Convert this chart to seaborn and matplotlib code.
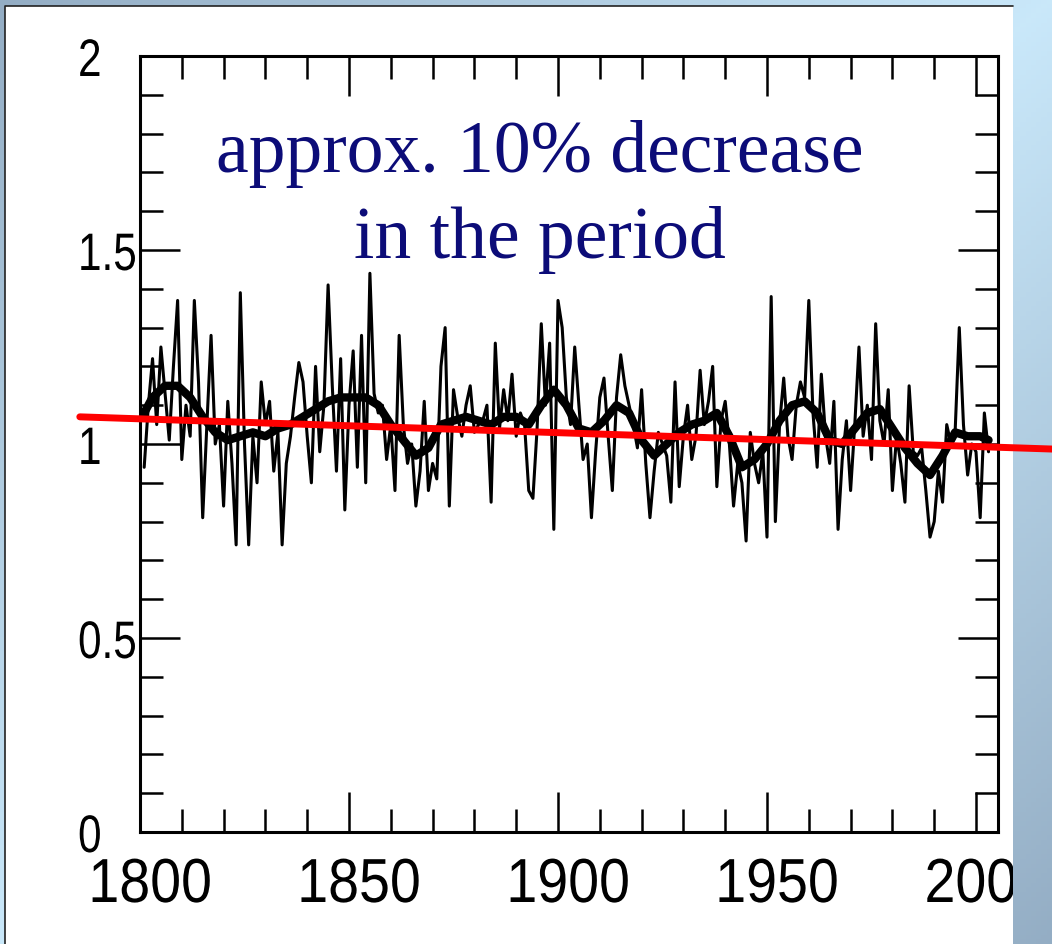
import numpy as np
import pandas as pd
import matplotlib
matplotlib.use("Agg")
import matplotlib.pyplot as plt
import seaborn as sns
from matplotlib.patches import Rectangle
from matplotlib.transforms import ScaledTranslation, Bbox, TransformedBbox, Affine2D
from matplotlib import patheffects

# ---------------- data ----------------
annual_start = 1801
annual_values = [
    0.94, 1.10, 1.22, 1.05, 1.25, 1.13, 1.01, 1.20, 1.37, 0.96,
    1.10, 1.02, 1.37, 1.16, 0.81, 1.05, 1.28, 1.00, 1.05, 0.84,
    1.11, 0.95, 0.74, 1.39, 1.00, 0.74, 1.02, 0.90, 1.16, 1.05,
    1.11, 0.93, 1.03, 0.74, 0.95, 1.02, 1.12, 1.21, 1.16, 1.02,
    0.90, 1.20, 0.98, 1.10, 1.41, 1.15, 0.93, 1.22, 0.83, 1.10,
    1.24, 0.94, 1.28, 0.90, 1.44, 1.13, 1.08, 1.10, 0.96, 1.05,
    0.88, 1.28, 1.05, 0.95, 1.00, 0.84, 0.93, 1.11, 0.88, 0.95,
    0.91, 1.20, 1.30, 0.84, 1.14, 1.07, 1.02, 1.10, 1.15, 1.03,
    1.05, 1.06, 1.10, 0.85, 1.26, 1.04, 1.14, 1.06, 1.18, 1.02,
    1.08, 1.05, 0.88, 0.86, 1.04, 1.31, 1.10, 1.26, 0.78, 1.37,
    1.30, 1.12, 1.05, 1.25, 1.10, 0.96, 1.00, 0.81, 0.98, 1.12,
    1.17, 1.02, 0.88, 1.12, 1.23, 1.15, 1.10, 1.05, 0.99, 1.14,
    0.95, 0.81, 0.93, 1.03, 1.00, 0.97, 0.85, 1.16, 0.89, 1.02,
    1.10, 0.96, 1.02, 1.19, 1.05, 1.11, 1.20, 0.89, 1.06, 1.11,
    1.00, 0.84, 0.95, 0.90, 0.75, 1.03, 0.95, 0.90, 0.98, 0.76,
    1.38, 0.80, 1.05, 1.17, 1.02, 0.96, 1.10, 1.16, 1.12, 1.37,
    1.08, 0.94, 1.18, 1.02, 0.95, 1.11, 0.78, 0.96, 1.06, 0.88,
    1.05, 1.25, 1.02, 1.10, 0.96, 1.31, 1.06, 1.00, 1.14, 0.88,
    1.02, 0.95, 0.85, 1.15, 0.98, 0.97, 0.99, 0.88, 0.76, 0.80,
    0.93, 0.85, 1.05, 1.00, 1.03, 1.30, 1.05, 0.92, 1.00, 0.98,
    0.81, 1.08, 0.98,
]
annual_years = list(range(annual_start, annual_start + len(annual_values)))

smooth_years = [1801, 1803, 1806, 1809, 1812, 1815, 1818, 1821, 1824, 1827,
                1830, 1833, 1836, 1839, 1842, 1845, 1848, 1851, 1854, 1857,
                1860, 1863, 1866, 1869, 1872, 1875, 1878, 1881, 1884, 1887,
                1890, 1893, 1896, 1899, 1902, 1905, 1908, 1911, 1914, 1917,
                1920, 1923, 1926, 1929, 1932, 1935, 1938, 1941, 1944, 1947,
                1950, 1953, 1956, 1959, 1962, 1965, 1968, 1971, 1974, 1977,
                1980, 1983, 1986, 1989, 1992, 1995, 1998, 2001, 2003]
smooth_values = [1.08, 1.12, 1.15, 1.15, 1.12, 1.07, 1.03, 1.01, 1.02, 1.03,
                 1.02, 1.04, 1.05, 1.07, 1.09, 1.11, 1.12, 1.12, 1.12, 1.10,
                 1.05, 1.01, 0.97, 0.99, 1.05, 1.06, 1.07, 1.06, 1.05, 1.07,
                 1.07, 1.05, 1.10, 1.14, 1.10, 1.04, 1.03, 1.06, 1.10, 1.08,
                 1.01, 0.97, 1.00, 1.03, 1.05, 1.06, 1.08, 1.02, 0.94, 0.96,
                 1.00, 1.06, 1.10, 1.11, 1.08, 1.01, 1.00, 1.04, 1.08, 1.09,
                 1.04, 0.99, 0.95, 0.92, 0.97, 1.03, 1.02, 1.02, 1.01]

trend_years = [1785.6, 2018.2]
trend_values = [1.07, 0.987]

x_major = [1800, 1850, 1900, 1950, 2000]
x_labels = ["1800", "1850", "1900", "1950", "2000"]
y_major = [0, 0.5, 1, 1.5, 2]
y_labels = ["0", "0.5", "1", "1.5", "2"]
annotation_lines = ["approx. 10% decrease", "in the period"]


class Stretch(patheffects.AbstractPathEffect):
    """Draw glyphs scaled about the text baseline origin (narrow, tall look)."""

    def __init__(self, sx=1.0, sy=1.0):
        super().__init__()
        self._t = Affine2D().scale(sx, sy)

    def draw_path(self, renderer, gc, tpath, affine, rgbFace=None):
        renderer.draw_path(gc, tpath, self._t + affine, rgbFace)


# ---------------- style ----------------
sns.set_theme(style="white")
plt.rcParams["font.family"] = ["Liberation Sans", "DejaVu Sans"]

W, H = 1052, 945
fig = plt.figure(figsize=(W / 100, H / 100), dpi=100)

# background gradient (slide frame)
bg = fig.add_axes([0, 0, 1, 1], zorder=-10)
bg.set_xlim(0, 1)
bg.set_ylim(0, 1)
bg.axis("off")
gx, gy = np.meshgrid(np.linspace(0, 1, 200), np.linspace(0, 1, 200))
t = np.clip(1 - np.abs(gx + gy - 1), 0, 1)
c_gray = np.array([0.58, 0.68, 0.77])
c_blue = np.array([0.79, 0.91, 0.98])
grad = c_gray[None, None, :] * (1 - t[..., None]) + c_blue[None, None, :] * t[..., None]
bg.imshow(grad, extent=[0, 1, 0, 1], origin="upper", aspect="auto", zorder=0)
x0, x1 = 5 / W, 1013 / W
ytop = 1 - 7 / H
bg.add_patch(Rectangle((x0, 0), x1 - x0, ytop, facecolor="white", edgecolor="none", zorder=1))
bg.plot([x0, x0, x1], [0, ytop, ytop], color="#222222", lw=1.2, zorder=2)

# main axes
ax = fig.add_axes([140 / W, 112 / H, 858 / W, 776 / H])
ax.patch.set_visible(False)

annual = pd.DataFrame({"year": annual_years, "value": annual_values})
smooth = pd.DataFrame({"year": smooth_years, "value": smooth_values})
trend = pd.DataFrame({"year": trend_years, "value": trend_values})

sns.lineplot(data=annual, x="year", y="value", ax=ax, color="black", lw=2.2, zorder=3)
sns.lineplot(data=smooth, x="year", y="value", ax=ax, color="black", lw=6.0, zorder=4)
sns.lineplot(data=trend, x="year", y="value", ax=ax, color="#ff0000", lw=5, zorder=6,
             clip_on=False)

ax.set_xlim(1800, 1800 + 858 / 4.18)
ax.set_ylim(0, 2)
ax.set_xlabel("")
ax.set_ylabel("")

ax.set_xticks(x_major)
ax.set_xticklabels(x_labels)
ax.set_xticks(np.arange(1800, 2006, 10), minor=True)
ax.set_yticks(y_major)
ax.set_yticklabels(y_labels)
ax.set_yticks(np.arange(0, 2.01, 0.1), minor=True)

ax.tick_params(which="major", direction="in", length=29, width=1.8, color="black",
               top=True, right=True, bottom=True, left=True, labelcolor="black")
ax.tick_params(axis="x", which="major", pad=50.4, labelsize=40)
ax.tick_params(axis="y", which="major", pad=44.6, labelsize=38)
ax.tick_params(which="minor", direction="in", length=16.5, width=1.8, color="black",
               top=True, right=True, bottom=True, left=True)
for s in ax.spines.values():
    s.set_visible(True)
    s.set_color("black")
    s.set_linewidth(2.2)

clip = TransformedBbox(Bbox.from_extents(0, 0, 1013 / W, 1), fig.transFigure)
for lab in ax.get_xticklabels():
    lab.set_verticalalignment("baseline")
    lab.set_transform(lab.get_transform() + ScaledTranslation(10 / 100, 0, fig.dpi_scale_trans))
    lab.set_clip_box(clip)
    lab.set_clip_on(True)
    lab.set_path_effects([Stretch(1.0, 1.12)])
for lab in ax.get_yticklabels():
    lab.set_horizontalalignment("left")
    lab.set_verticalalignment("baseline")
    lab.set_transform(lab.get_transform() + ScaledTranslation(0, -20 / 100, fig.dpi_scale_trans))
    lab.set_path_effects([Stretch(0.8, 1.0)])

# annotation
fig.text(540 / W, 1 - 172 / H, annotation_lines[0], ha="center", va="baseline",
         fontsize=53, color="#0c0c78", family=["Liberation Serif", "DejaVu Serif"])
fig.text(540 / W, 1 - 258 / H, annotation_lines[1], ha="center", va="baseline",
         fontsize=53, color="#0c0c78", family=["Liberation Serif", "DejaVu Serif"])

fig.savefig("out.png", dpi=100)
